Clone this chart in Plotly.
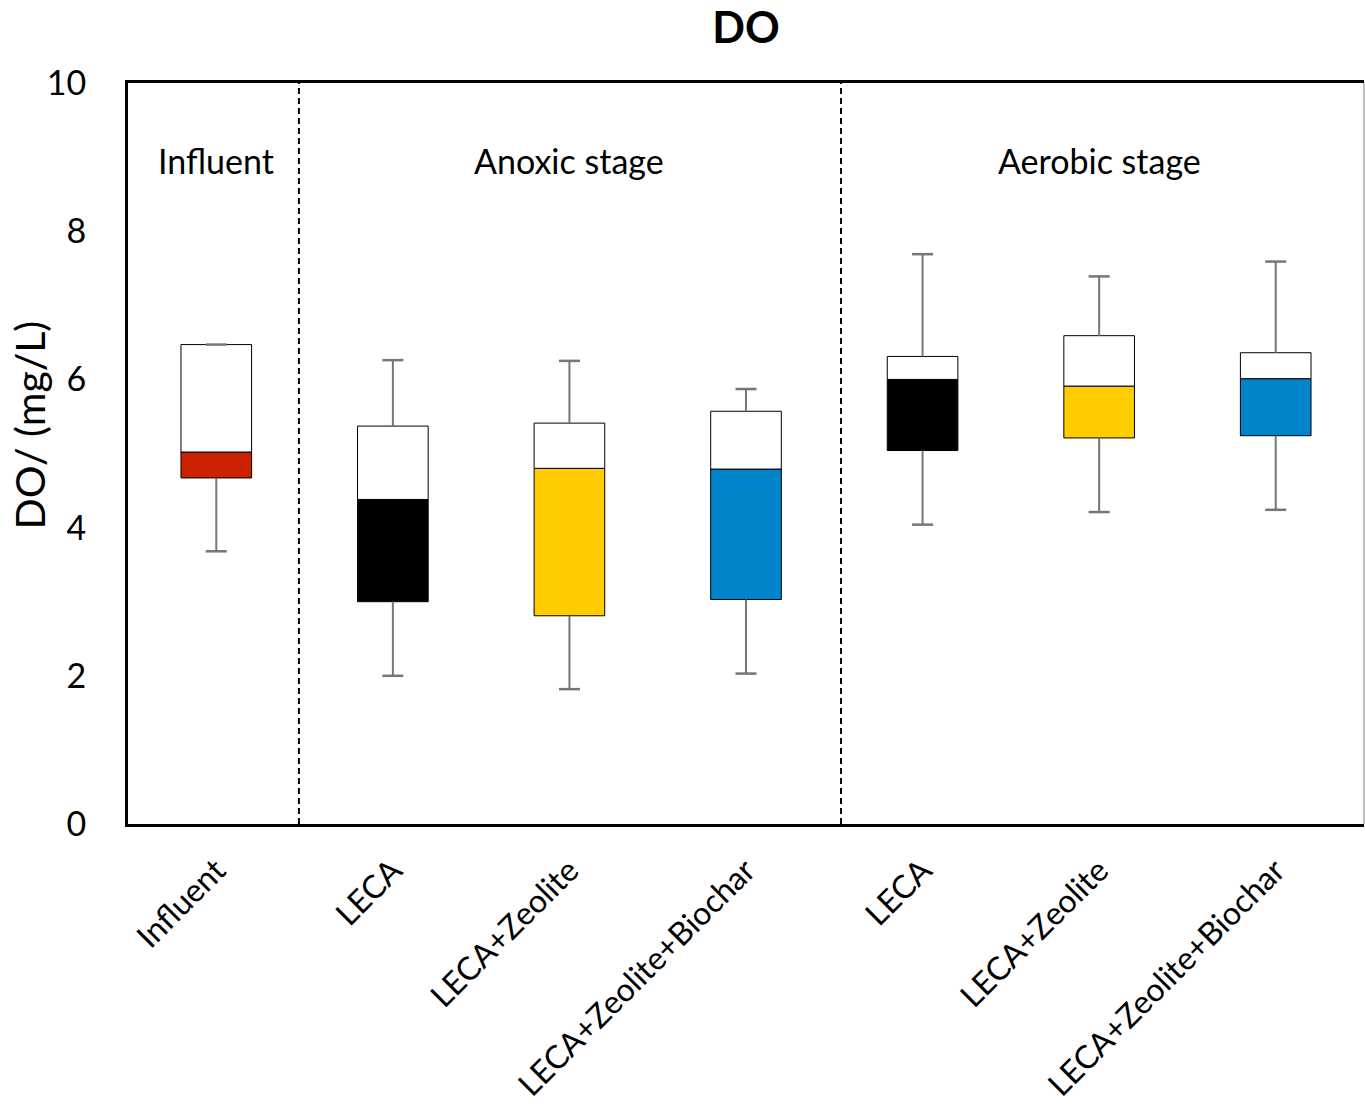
import plotly.graph_objects as go

categories = ["Influent", "LECA", "LECA+Zeolite", "LECA+Zeolite+Biochar",
              "LECA", "LECA+Zeolite", "LECA+Zeolite+Biochar"]
whisker_low = [3.68, 2.00, 1.82, 2.03, 4.04, 4.21, 4.24]
q1 = [4.67, 3.00, 2.81, 3.03, 5.04, 5.21, 5.24]
median = [5.02, 4.38, 4.80, 4.79, 6.00, 5.91, 6.01]
q3 = [6.47, 5.37, 5.41, 5.57, 6.31, 6.59, 6.36]
whisker_high = [6.47, 6.26, 6.25, 5.87, 7.69, 7.39, 7.59]
box_colors = ["#CC2200", "#000000", "#FFCC00", "#0084CB", "#000000", "#FFCC00", "#0084CB"]

group_labels = ["Influent", "Anoxic stage", "Aerobic stage"]
group_label_x = [0, 2, 5]
group_label_y = 8.95
separators_x = [0.468, 3.538]

xs = list(range(len(categories)))
FONT = "Lato, 'Open Sans', sans-serif"
GRAY = "#767676"

fig = go.Figure()

# whisker lines
wx, wy = [], []
for i in xs:
    wx += [i, i, None, i, i, None]
    wy += [whisker_low[i], q1[i], None, q3[i], whisker_high[i], None]
fig.add_trace(go.Scatter(x=wx, y=wy, mode="lines", line=dict(color=GRAY, width=2),
                         hoverinfo="skip", showlegend=False))

# lower (colored) part of box
fig.add_trace(go.Bar(x=xs, y=[m - a for m, a in zip(median, q1)], base=q1, width=0.40,
                     marker=dict(color=box_colors, line=dict(color="#000000", width=1)),
                     showlegend=False))
# upper (white) part of box
fig.add_trace(go.Bar(x=xs, y=[b - m for b, m in zip(q3, median)], base=median, width=0.40,
                     marker=dict(color="#FFFFFF", line=dict(color="#000000", width=1)),
                     showlegend=False))

# caps
fig.add_trace(go.Scatter(x=xs + xs, y=whisker_low + whisker_high, mode="markers",
                         marker=dict(symbol="line-ew", size=15,
                                     line=dict(color=GRAY, width=2.5)),
                         hoverinfo="skip", showlegend=False))

for sx in separators_x:
    fig.add_shape(type="line", xref="x", yref="paper", x0=sx, x1=sx, y0=0, y1=1,
                  line=dict(color="#000000", width=2, dash="6px,4px"), layer="above")

# right border thin gray
fig.add_shape(type="line", xref="paper", yref="paper", x0=1, x1=1, y0=0, y1=1,
              line=dict(color="#808080", width=1))

for lab, lx in zip(group_labels, group_label_x):
    fig.add_annotation(x=lx, y=group_label_y, xref="x", yref="y", text=lab,
                       showarrow=False, font=dict(family=FONT, size=34, color="#000000"))

fig.add_annotation(x=-0.08, y=0.538, xref="paper", yref="paper", text="DO/ (mg/L)",
                   textangle=-90, showarrow=False, xanchor="center", yanchor="middle",
                   font=dict(family=FONT, size=41, color="#000000"))

fig.update_layout(
    width=1365, height=1109,
    margin=dict(l=128, r=1, t=83, b=285),
    paper_bgcolor="#FFFFFF", plot_bgcolor="#FFFFFF",
    barmode="overlay",
    title=dict(text="<b>DO</b>", x=0.5, xref="paper", y=1 - 28 / 1109, yanchor="middle",
               font=dict(family=FONT, size=43, color="#000000")),
    font=dict(family=FONT, color="#000000"),
    xaxis=dict(range=[-0.5, 6.5], tickmode="array", tickvals=xs, ticktext=categories,
               tickangle=-45, showgrid=False, zeroline=False, automargin=False,
               showline=True, linecolor="#000000", linewidth=3, mirror=True,
               ticks="", ticklabelstandoff=12,
               tickfont=dict(family=FONT, size=32, color="#000000")),
    yaxis=dict(range=[0, 10], tickvals=[0, 2, 4, 6, 8, 10], showgrid=False, zeroline=False,
               showline=True, linecolor="#000000", linewidth=3, automargin=False,
               ticks="", ticklabelstandoff=32,
               tickfont=dict(family=FONT, size=34, color="#000000")),
)

fig.write_html("out.html")
